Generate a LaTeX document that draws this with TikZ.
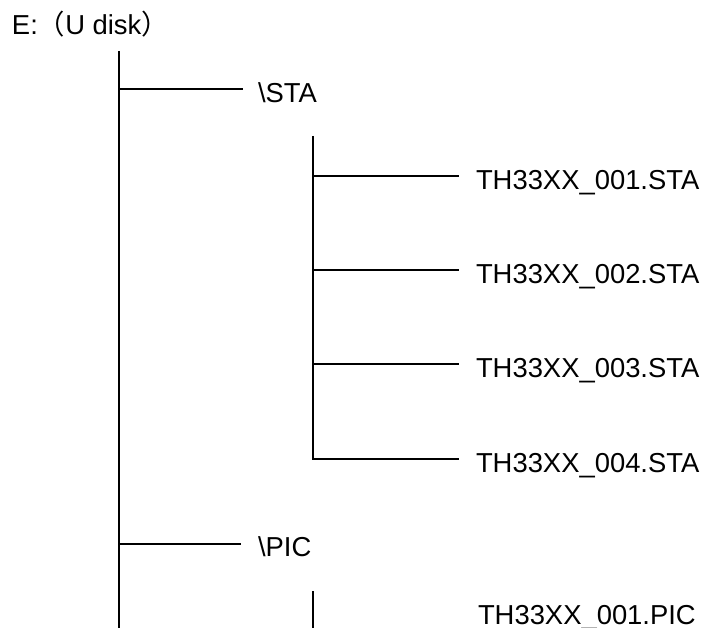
\documentclass[tikz,border=0pt]{standalone}
\usepackage{fontspec}
\setmainfont{Liberation Sans}
\newfontfamily\cjk{Noto Sans CJK SC}
\begin{document}
\begin{tikzpicture}[x=1pt,y=-1pt,line width=2pt,
  lbl/.style={anchor=base west,inner sep=0pt,font=\fontsize{27.4}{32}\selectfont}]
\useasboundingbox (0,0) rectangle (705,628);
% root
\node[lbl] (root) at (11,35) {E:{\cjk （}U disk{\cjk ）}};
% main trunk
\coordinate (t0) at (119,51);
\coordinate (t1) at (119,628);
\draw (t0) -- (t1);
% \STA
\coordinate (jsta) at (119,89);
\coordinate (esta) at (243,89);
\node[lbl] (sta) at (257,103) {\textbackslash STA};
\draw (jsta) -- (esta);
% STA files
\coordinate (s0) at (313,136);
\coordinate (s1) at (313,176);
\coordinate (s2) at (313,270);
\coordinate (s3) at (313,364);
\coordinate (s4) at (313,459);
\coordinate (e1) at (459,176);
\coordinate (e2) at (459,270);
\coordinate (e3) at (459,364);
\coordinate (e4) at (459,459);
\node[lbl] (f1) at (475,190) {TH33XX\_001.STA};
\node[lbl] (f2) at (475,284) {TH33XX\_002.STA};
\node[lbl] (f3) at (475,378) {TH33XX\_003.STA};
\node[lbl] (f4) at (475,473) {TH33XX\_004.STA};
\draw (s0) -- (s4) -- (e4);
\draw (s1) -- (e1);
\draw (s2) -- (e2);
\draw (s3) -- (e3);
% \PIC
\coordinate (jpic) at (119,544);
\coordinate (epic) at (241,544);
\node[lbl] (pic) at (257,556) {\textbackslash PIC};
\draw (jpic) -- (epic);
% PIC files
\coordinate (p0) at (313,591);
\coordinate (p1) at (313,628);
\draw (p0) -- (p1);
\node[lbl] (g1) at (477,624) {TH33XX\_001.PIC};
\end{tikzpicture}
\end{document}
